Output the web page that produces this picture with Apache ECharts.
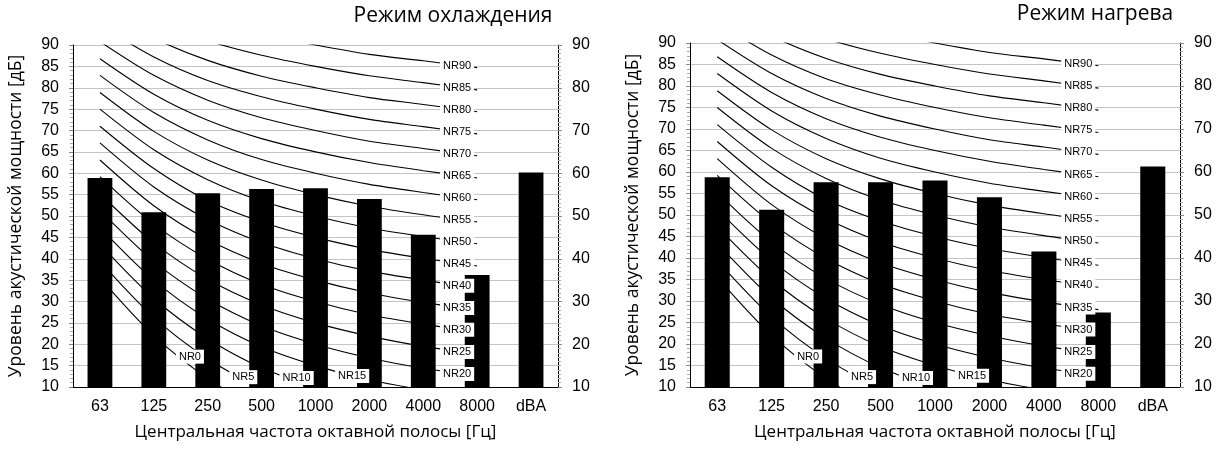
<!DOCTYPE html>
<html><head><meta charset="utf-8">
<script src="https://cdn.jsdelivr.net/npm/echarts@6/dist/echarts.min.js"></script>
<style>html,body{margin:0;padding:0;background:#fff}#c{width:1223px;height:450px}</style>
</head><body><div id="c"></div>
<script>
// ---- data ----
const categories = ['63', '125', '250', '500', '1000', '2000', '4000', '8000', 'dBA'];
const coolingValues = [58.9, 50.9, 55.3, 56.3, 56.5, 54.0, 45.6, 36.2, 60.2];
const heatingValues = [58.8, 51.2, 57.6, 57.6, 58.0, 54.1, 41.5, 27.3, 61.3];
const titles = ['Режим охлаждения', 'Режим нагрева'];
const xAxisTitle = 'Центральная частота октавной полосы [Гц]';
const yAxisTitle = 'Уровень акустической мощности [дБ]';
const leftTickInterval = 5;
const rightTickInterval = 10;
const yMin = 10, yMax = 90;

// NR curves, octave bands 63 ... 8000 Hz
const nrLevels = [0, 5, 10, 15, 20, 25, 30, 35, 40, 45, 50, 55, 60, 65, 70, 75, 80, 85, 90];
const NR0  = [35.5, 22.0, 12.0, 4.8, 0.0, -3.5, -6.1, -8.0];
const NR5  = [39.4, 26.3, 16.6, 9.7, 5.0, 1.6, -1.0, -2.8];
const NR10 = [43.4, 30.7, 21.3, 14.5, 10.0, 6.6, 4.2, 2.3];
const NR15 = [47.3, 35.0, 25.9, 19.4, 15.0, 11.7, 9.3, 7.4];
const NR20 = [51.3, 39.4, 30.6, 24.3, 20.0, 16.8, 14.4, 12.6];
const NR25 = [55.2, 43.7, 35.2, 29.2, 25.0, 21.9, 19.5, 17.7];
const NR30 = [59.2, 48.1, 39.9, 34.0, 30.0, 26.9, 24.7, 22.9];
const NR35 = [63.1, 52.4, 44.5, 38.9, 35.0, 32.0, 29.8, 28.0];
const NR40 = [67.1, 56.8, 49.2, 43.8, 40.0, 37.1, 35.0, 33.2];
const NR45 = [71.0, 61.1, 53.6, 48.6, 45.0, 42.2, 40.1, 38.3];
const NR50 = [75.0, 65.5, 58.5, 53.5, 50.0, 47.2, 45.2, 43.5];
const NR55 = [78.9, 69.8, 63.1, 58.4, 55.0, 52.3, 50.3, 48.6];
const NR60 = [82.9, 74.2, 67.8, 63.2, 60.0, 57.4, 55.5, 53.8];
const NR65 = [86.8, 78.5, 72.4, 68.1, 65.0, 62.5, 60.6, 58.9];
const NR70 = [90.8, 82.9, 77.1, 73.0, 70.0, 67.5, 65.8, 64.1];
const NR75 = [94.7, 87.2, 81.7, 77.9, 75.0, 72.6, 70.9, 69.2];
const NR80 = [98.7, 91.6, 86.4, 82.7, 80.0, 77.7, 76.1, 74.4];
const NR85 = [102.6, 95.9, 91.0, 87.6, 85.0, 82.8, 81.2, 79.5];
const NR90 = [106.6, 100.3, 95.7, 92.5, 90.0, 87.8, 86.3, 84.7];
const nrCurves = [NR0, NR5, NR10, NR15, NR20, NR25, NR30, NR35, NR40, NR45, NR50, NR55, NR60, NR65, NR70, NR75, NR80, NR85, NR90];
// hand-placed labels for the lowest curves (band index position, level)
const lowLabelX = [1.67, 2.66, 3.65, 4.68];
const lowLabelY = [17.1, 12.3, 12.1, 12.6];

// ---- chart ----
const chart = echarts.init(document.getElementById('c'));
const ARIAL = '"Liberation Sans", Arial, sans-serif';
const CAL = '"Open Sans", "Noto Sans", sans-serif';
const grids = [
  { left: 73, right: 665, top: 45, bottom: 63 },
  { left: 690, right: 43, top: 43, bottom: 63 }
];
const titlePos = [[453, 16], [1095, 14]];
const barData = [coolingValues, heatingValues];

const xAxis = [], yAxis = [], series = [];
grids.forEach((g, gi) => {
  xAxis.push({
    type: 'category', gridIndex: gi, data: categories,
    axisLine: { onZero: false, lineStyle: { color: '#000', width: 1 } },
    axisTick: { show: false },
    axisLabel: { color: '#000', fontSize: 16, fontFamily: ARIAL, margin: 12 },
    name: xAxisTitle, nameLocation: 'middle', nameGap: 37,
    nameTextStyle: { color: '#000', fontSize: 17, fontFamily: CAL }
  });
  xAxis.push({ type: 'value', gridIndex: gi, min: -0.5, max: 8.5, show: false });
  yAxis.push({
    type: 'value', gridIndex: gi, min: yMin, max: yMax, interval: leftTickInterval,
    position: 'left',
    axisLine: { show: true, onZero: false, lineStyle: { color: '#000' } },
    axisTick: { show: true, length: 4, lineStyle: { color: '#888' } },
    minorTick: { show: true, splitNumber: 5, length: 3, lineStyle: { color: '#aaa' } },
    splitLine: { show: true, lineStyle: { color: '#c4c4c4', width: 1 } },
    axisLabel: { color: '#000', fontSize: 16, fontFamily: ARIAL, margin: 14 },
    name: yAxisTitle, nameLocation: 'middle', nameGap: 48,
    nameTextStyle: { color: '#000', fontSize: 17.5, fontFamily: CAL }
  });
  yAxis.push({
    type: 'value', gridIndex: gi, min: yMin, max: yMax, interval: rightTickInterval,
    position: 'right',
    axisLine: { show: true, onZero: false, lineStyle: { color: '#000' } },
    axisTick: { show: true, length: 4, lineStyle: { color: '#888' } },
    minorTick: { show: true, splitNumber: 10, length: 3, lineStyle: { color: '#aaa' } },
    splitLine: { show: false },
    axisLabel: { color: '#000', fontSize: 16, fontFamily: ARIAL, margin: 14 }
  });

  // NR curves
  nrCurves.forEach((curve, ci) => {
    series.push({
      type: 'line', name: 'NR' + nrLevels[ci],
      xAxisIndex: gi * 2 + 1, yAxisIndex: gi * 2,
      data: curve.map((v, i) => [i, v]),
      smooth: 0.3, symbol: 'none', clip: true,
      lineStyle: { color: '#000', width: 1.1 }, z: 2, silent: true
    });
  });

  // bars
  series.push({
    type: 'bar', xAxisIndex: gi * 2, yAxisIndex: gi * 2,
    data: barData[gi], barWidth: '46%',
    itemStyle: { color: '#000' }, z: 3, silent: true
  });

  // NR labels
  const labelData = [];
  nrCurves.forEach((curve, ci) => {
    if (ci < lowLabelX.length) {
      labelData.push({
        value: [lowLabelX[ci], lowLabelY[ci]], name: 'NR' + nrLevels[ci],
        label: { position: 'inside' }
      });
    } else {
      labelData.push({
        value: [curve.length - 1, curve[curve.length - 1]], name: 'NR' + nrLevels[ci],
        label: { position: 'left', distance: 3, offset: [0, -2] }
      });
    }
  });
  series.push({
    type: 'scatter', xAxisIndex: gi * 2 + 1, yAxisIndex: gi * 2,
    data: labelData, symbolSize: 0, z: 5, silent: true,
    itemStyle: { opacity: 1, color: '#000' },
    label: {
      show: true, formatter: p => p.name, color: '#000', fontSize: 11, fontFamily: ARIAL,
      backgroundColor: '#fff', padding: [2, 3, 1, 3], opacity: 1
    }
  });
});

chart.setOption({
  animation: false,
  backgroundColor: '#fff',
  grid: grids,
  xAxis, yAxis, series,
  graphic: titles.map((t, i) => ({
    type: 'text', x: titlePos[i][0], y: titlePos[i][1],
    style: { text: t, fill: '#000', font: '21px ' + CAL, textAlign: 'center', textVerticalAlign: 'middle' }
  }))
});
</script>
</body></html>
